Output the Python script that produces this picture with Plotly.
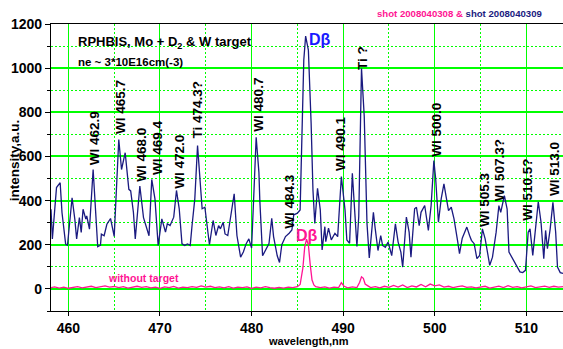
import plotly.graph_objects as go

# ---- data ----
blue_wl = [458.1, 458.25, 458.7, 459.1, 459.3, 459.7, 459.9, 460.4, 460.7, 460.9, 461.2, 461.4, 461.6, 461.9, 462.0,
           462.3, 462.7, 462.9, 463.2, 463.5, 463.6, 463.9, 464.2, 464.6, 465.0, 465.5, 465.8, 466.2, 466.6, 466.8,
           467.1, 467.3, 467.8, 468.2, 468.5, 468.8, 469.1, 469.45, 469.8, 470.2, 470.6, 470.8, 471.1, 471.5, 471.8,
           472.1, 472.4, 472.7, 473.0, 473.3, 473.5, 473.8, 474.1, 474.4, 474.6, 474.9, 475.1, 475.4, 475.8, 476.1,
           476.4, 476.6, 476.9, 477.1, 477.4, 477.7, 478.1, 478.4, 478.8, 479.1, 479.4, 479.7, 480.0, 480.3, 480.5,
           480.8, 480.9, 481.2, 481.5, 481.9, 482.2, 482.4, 482.8, 483.05, 483.3, 483.7, 484.1, 484.4, 484.6, 485.0,
           485.3, 485.5, 485.7, 485.9, 486.2, 486.5, 486.7, 486.9, 487.2, 487.5, 487.7, 488.0, 488.1, 488.4, 488.7,
           489.1, 489.4, 489.8, 490.2, 490.4, 490.7, 491.0, 491.3, 491.5, 491.7, 492.0, 492.3, 492.6, 492.85, 493.3,
           493.5, 493.8, 494.1, 494.3, 494.6, 494.9, 495.1, 495.3, 495.7, 496.0, 496.3, 496.5, 496.9, 497.2, 497.4,
           497.8, 498.0, 498.3, 498.5, 498.9, 499.3, 499.6, 499.9, 500.1, 500.4, 500.7, 501.0, 501.3, 501.5, 501.8,
           502.1, 502.5, 502.7, 503.0, 503.3, 503.5, 503.8, 504.0, 504.3, 504.6, 504.9, 505.2, 505.5, 505.7, 506.0,
           506.3, 506.7, 507.0, 507.2, 507.6, 507.9, 508.1, 508.5, 508.9, 509.3, 509.6, 509.9, 510.2, 510.4, 510.7,
           511.0, 511.3, 511.6, 511.9, 512.1, 512.3, 512.6, 512.9, 513.2, 513.4, 513.7, 514.0]
blue_int = [361, 226, 459, 481, 346, 203, 198, 413, 316, 226, 323, 256, 361, 316, 331,
            271, 541, 376, 191, 198, 248, 241, 293, 319, 238, 677, 541, 617, 451, 444,
            346, 226, 466, 323, 286, 241, 496, 408, 197, 317, 257, 295, 287, 325, 446,
            363, 204, 197, 204, 197, 287, 408, 649, 483, 363, 370, 295, 200, 310, 242,
            287, 272, 302, 249, 242, 332, 431, 242, 144, 167, 204, 227, 185, 483, 687,
            528, 400, 150, 175, 205, 320, 237, 150, 120, 200, 237, 252, 267, 335, 343,
            358, 675, 1037, 1145, 1082, 750, 448, 297, 456, 358, 177, 282, 214, 275, 222,
            252, 237, 509, 358, 222, 207, 524, 328, 192, 328, 999, 780, 297, 140, 347,
            272, 174, 242, 197, 189, 212, 182, 151, 295, 212, 167, 99, 325, 257, 144,
            363, 370, 287, 347, 378, 265, 378, 581, 498, 302, 408, 476, 408, 355, 370,
            317, 215, 160, 230, 257, 280, 242, 220, 205, 137, 152, 272, 227, 182, 107,
            144, 257, 377, 347, 423, 362, 167, 137, 107, 77, 74, 84, 257, 272, 152,
            287, 395, 302, 137, 265, 182, 272, 392, 257, 99, 74, 70]

pink_wl = [458.0, 458.5, 459.0, 459.5, 460.0, 460.5, 461.0, 461.5, 462.0, 462.5, 463.0, 463.5, 464.0, 464.5,
           465.0, 465.5, 466.0, 466.5, 467.0, 467.5, 468.0, 468.5, 469.0, 469.5, 470.0, 470.5, 471.0, 471.5,
           472.0, 472.5, 473.0, 473.5, 474.0, 474.5, 475.0, 475.5, 476.0, 476.5, 477.0, 477.5, 478.0, 478.5,
           479.0, 479.5, 480.0, 480.5, 481.0, 481.5, 482.0, 482.5, 483.0, 483.5, 484.0, 484.5, 485.0, 485.3,
           485.6, 485.8, 486.0, 486.2, 486.4, 486.6, 486.8, 487.0, 487.5, 488.0, 488.5, 489.0, 489.5, 489.8,
           490.1, 490.5, 491.0, 491.5, 491.8, 492.0, 492.2, 492.4, 492.7, 493.0, 493.5, 494.0, 494.5, 495.0,
           495.5, 496.0, 496.5, 497.0, 497.5, 498.0, 498.5, 499.0, 499.5, 500.0, 500.5, 501.0, 501.5, 502.0,
           502.5, 503.0, 503.5, 504.0, 504.5, 505.0, 505.5, 506.0, 506.5, 507.0, 507.5, 508.0, 508.5, 509.0,
           509.5, 510.0, 510.5, 511.0, 511.5, 512.0, 512.5, 513.0, 513.5, 514.0]
pink_int = [5, 9, 4, 8, 3, 7, 10, 5, 8, 12, 6, 9, 14, 8,
            11, 6, 10, 4, 9, 12, 7, 10, 5, 8, 3, 9, 6, 11,
            4, 8, 6, 10, 7, 14, 8, 12, 6, 9, 5, 10, 4, 8,
            6, 9, 3, 8, 5, 10, 6, 3, 7, 4, 8, 6, 10, 20,
            95, 190, 225, 200, 110, 40, 18, 10, 6, 9, 4, 8, 6, 28,
            12, 5, 9, 6, 30, 55, 48, 22, 14, 6, 10, 5, 12, 7,
            16, 8, 18, 6, 14, 9, 20, 10, 22, 14, 18, 8, 12, 6,
            10, 14, 7, 9, 5, 8, 12, 4, 9, 13, 6, 15, 7, 10,
            5, 11, 14, 6, 9, 13, 7, 12, 8, 10]

peak_labels = ["WI 462.9", "WI 465.7", "WI 468.0", "WI 469.4", "WI 472.0", "Ti 474.3?", "WI 480.7",
               "WI 484.3", "WI 490.1", "Ti ?", "WI 500.0", "WI 505.3", "WI 507.3?", "WI 510.5?", "WI 513.0"]
label_wl = [462.87, 465.68, 468.04, 469.79, 472.2, 474.05, 480.74, 484.05, 489.77, 492.1, 500.25,
            505.45, 507.05, 510.18, 513.06]
label_base = [550, 695, 477, 505, 445, 673, 705, 264, 523, 985, 590, 272, 390, 300, 414]

X_RANGE = [458.1, 514.0]
Y_RANGE = [-100, 1200]

FONT = "Liberation Sans"
NAVY = "#1a1a80"
PINK = "#ff1493"
GREEN = "rgb(0,255,0)"
DOTTED = "2px,2px"

fig = go.Figure()
# empty trace that binds the overlay axes carrying the dotted (minor) grid
fig.add_trace(go.Scatter(x=[], y=[], xaxis="x2", yaxis="y2", showlegend=False, hoverinfo="skip"))
fig.add_trace(go.Scatter(x=pink_wl, y=pink_int, mode="lines",
                         line=dict(color=PINK, width=1.3), showlegend=False))
fig.add_trace(go.Scatter(x=blue_wl, y=blue_int, mode="lines",
                         line=dict(color=NAVY, width=1.3), showlegend=False))

annotations = []
for t, x, y in zip(peak_labels, label_wl, label_base):
    annotations.append(dict(x=x, y=y, xref="x", yref="y", text=t, textangle=-90, showarrow=False,
                            xanchor="center", yanchor="bottom",
                            font=dict(family=FONT, size=13.5, color="black", weight="bold")))

annotations += [
    dict(x=487.46, y=1132, xref="x", yref="y", text="Dβ", showarrow=False,
         xanchor="center", yanchor="middle",
         font=dict(family=FONT, size=16, color="#1a1aff", weight="bold")),
    dict(x=486.09, y=241, xref="x", yref="y", text="Dβ", showarrow=False,
         xanchor="center", yanchor="middle",
         font=dict(family=FONT, size=16, color=PINK, weight="bold")),
    dict(x=468.2, y=50, xref="x", yref="y", text="without target", showarrow=False,
         xanchor="center", yanchor="middle",
         font=dict(family=FONT, size=10.5, color=PINK, weight="bold")),
    dict(x=0.049, y=0.937, xref="paper", yref="paper", xanchor="left", yanchor="middle",
         text="RPHBIS, Mo + D<sub>2</sub> & W target",
         showarrow=False, font=dict(family=FONT, size=13, color="black", weight="bold")),
    dict(x=0.049, y=0.868, xref="paper", yref="paper", xanchor="left", yanchor="middle",
         text="ne ~ 3*10E16cm(-3)",
         showarrow=False, font=dict(family=FONT, size=11.5, color="black", weight="bold")),
    dict(x=0.963, y=1.035, xref="paper", yref="paper", xanchor="right", yanchor="middle",
         text="<span style='color:%s'>shot 2008040308 & </span><span style='color:#1a1a80'>shot 2008040309</span>" % PINK,
         showarrow=False, font=dict(family=FONT, size=9.6, weight="bold")),
    dict(x=0.503, y=-0.105, xref="paper", yref="paper", text="wavelength,nm", showarrow=False,
         xanchor="center", yanchor="middle",
         font=dict(family=FONT, size=11, color="black", weight="bold")),
    dict(x=-0.072, y=0.526, xref="paper", yref="paper", text="intensity,a.u.", textangle=-90, showarrow=False,
         xanchor="center", yanchor="middle",
         font=dict(family=FONT, size=13.5, color="black", weight="bold")),
]

fig.update_layout(
    width=563, height=349,
    margin=dict(l=51, r=0, t=24, b=38),
    paper_bgcolor="white", plot_bgcolor="white",
    annotations=annotations,
    xaxis=dict(range=X_RANGE, dtick=10, tick0=460, showgrid=True, gridcolor=GREEN, gridwidth=1.2,
               showline=True, linecolor="black", linewidth=1.2, mirror=True,
               ticks="outside", ticklen=4, tickcolor="black", zeroline=False,
               tickfont=dict(family=FONT, size=14, color="black", weight="bold")),
    yaxis=dict(range=Y_RANGE, dtick=200, tick0=0, showgrid=True, gridcolor=GREEN, gridwidth=1.6,
               showline=True, linecolor="black", linewidth=1.2,
               ticks="outside", ticklen=5, tickcolor="black", zeroline=False,
               tickfont=dict(family=FONT, size=14, color="black", weight="bold")),
    xaxis2=dict(range=X_RANGE, overlaying="x", anchor="y2", side="bottom", dtick=10, tick0=465,
                showgrid=True, gridcolor=GREEN, griddash=DOTTED, gridwidth=1,
                showticklabels=False, ticks="", showline=False, zeroline=False, layer="below traces"),
    yaxis2=dict(range=Y_RANGE, overlaying="y", anchor="x2", side="left", dtick=200, tick0=100,
                showgrid=True, gridcolor=GREEN, griddash=DOTTED, gridwidth=1.3,
                showticklabels=False, ticks="outside", ticklen=3, tickcolor="black",
                showline=False, zeroline=False, layer="below traces"),
)

fig.write_html("out.html")
